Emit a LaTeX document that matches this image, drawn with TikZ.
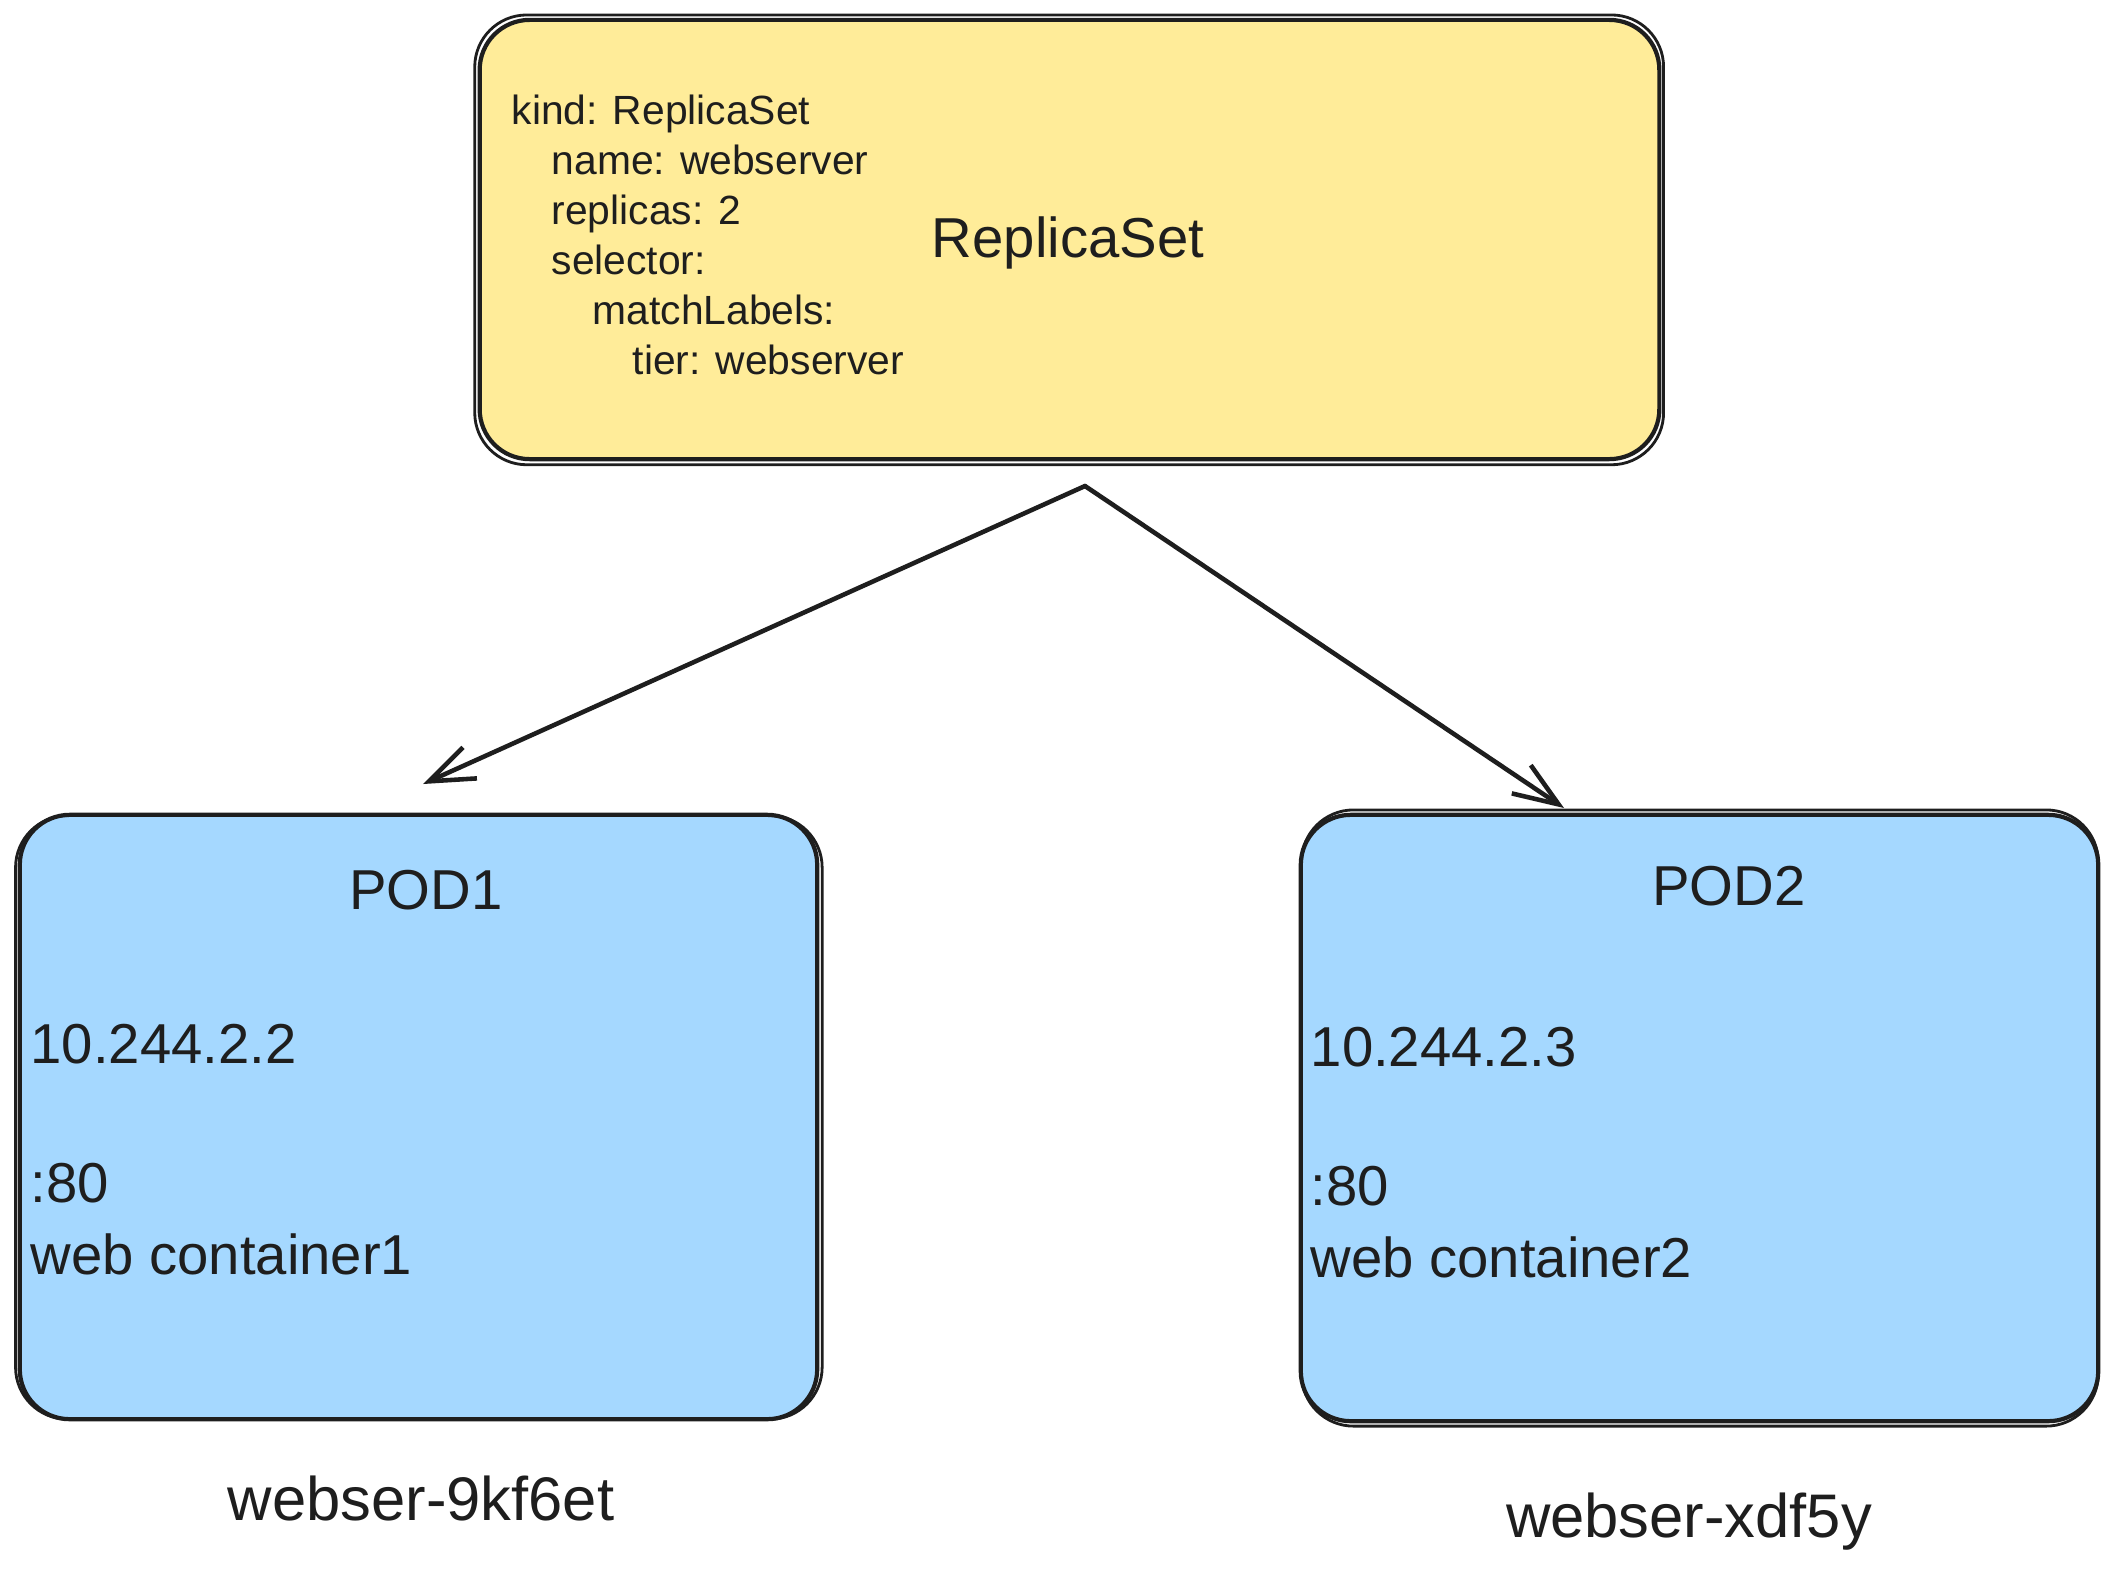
\documentclass[tikz,border=0pt]{standalone}
\usepackage{fontspec}
\setmainfont{Liberation Sans}
\usetikzlibrary{arrows.meta}
\definecolor{rsyellow}{HTML}{FFEC99}
\definecolor{podblue}{HTML}{A5D8FF}
\definecolor{ink}{HTML}{1E1E1E}

\begin{document}
\begin{tikzpicture}[x=0.01cm,y=-0.01cm,
  box/.style={draw=ink,line width=1.2pt,rounded corners=0.5cm,inner sep=0pt},
  rough/.style={draw=ink,line width=0.8pt,rounded corners=0.52cm},
  yaml/.style={anchor=base west,inner sep=0pt,font=\fontsize{11.6}{14}\selectfont,text=ink},
  big/.style={anchor=base,inner sep=0pt,font=\fontsize{16}{19}\selectfont,text=ink},
  podtext/.style={big,anchor=base west},
  podname/.style={anchor=base,inner sep=0pt,font=\fontsize{17.5}{21}\selectfont,text=ink},
  link/.style={draw=ink,line width=1.3pt,line cap=round,
    -{Straight Barb[length=0.45cm,width=0.34cm,line width=1.3pt]}}]
\useasboundingbox (0,0) rectangle (2118,1575);

% replicaset
\node[box,fill=rsyellow,minimum width=11.79cm,minimum height=4.39cm] (rs) at (1069.5,239.5) {};
\draw[rough] ([xshift=-0.8pt,yshift=0.8pt]rs.north west) rectangle ([xshift=0.6pt,yshift=-1pt]rs.south east);
\node[yaml] (kind) at (511,124) {kind: ReplicaSet};
\node[yaml] (name) at (551,174) {name: webserver};
\node[yaml] (replicas) at (551,224) {replicas: 2};
\node[yaml] (selector) at (551,274) {selector:};
\node[yaml] (match) at (592,324) {matchLabels:};
\node[yaml] (tier) at (632,374) {tier: webserver};
\node[big] (rstitle) at (1068,257) {ReplicaSet};

% pods
\node[box,fill=podblue,minimum width=7.97cm,minimum height=6.04cm] (pod1) at (418.5,1117) {};
\draw[rough] ([xshift=-0.6pt,yshift=-0.8pt]pod1.north west) rectangle ([xshift=0.8pt,yshift=0.6pt]pod1.south east);
\node[box,fill=podblue,minimum width=7.97cm,minimum height=6.06cm] (pod2) at (1699.5,1118) {};
\draw[rough] ([xshift=0.8pt,yshift=0.8pt]pod2.north west) rectangle ([xshift=-0.6pt,yshift=-0.8pt]pod2.south east);

\node[big] (pod1title) at (426,909) {POD1};
\node[podtext] (ip1) at (30,1063) {10.244.2.2};
\node[podtext] (port1) at (30,1202) {:80};
\node[podtext] (web1) at (30,1274) {web container1};

\node[big] (pod2title) at (1729,905) {POD2};
\node[podtext] (ip2) at (1310,1066) {10.244.2.3};
\node[podtext] (port2) at (1310,1205) {:80};
\node[podtext] (web2) at (1310,1277) {web container2};

\node[podname] (name1) at (421,1520) {webser-9kf6et};
\node[podname] (name2) at (1689,1537) {webser-xdf5y};

% arrows
\coordinate (fork) at (1085,486);
\coordinate (tip1) at (423,784);
\coordinate (tip2) at (1564,808);
\draw[link] (fork) -- (tip1);
\draw[link] (fork) -- (tip2);
\end{tikzpicture}
\end{document}
